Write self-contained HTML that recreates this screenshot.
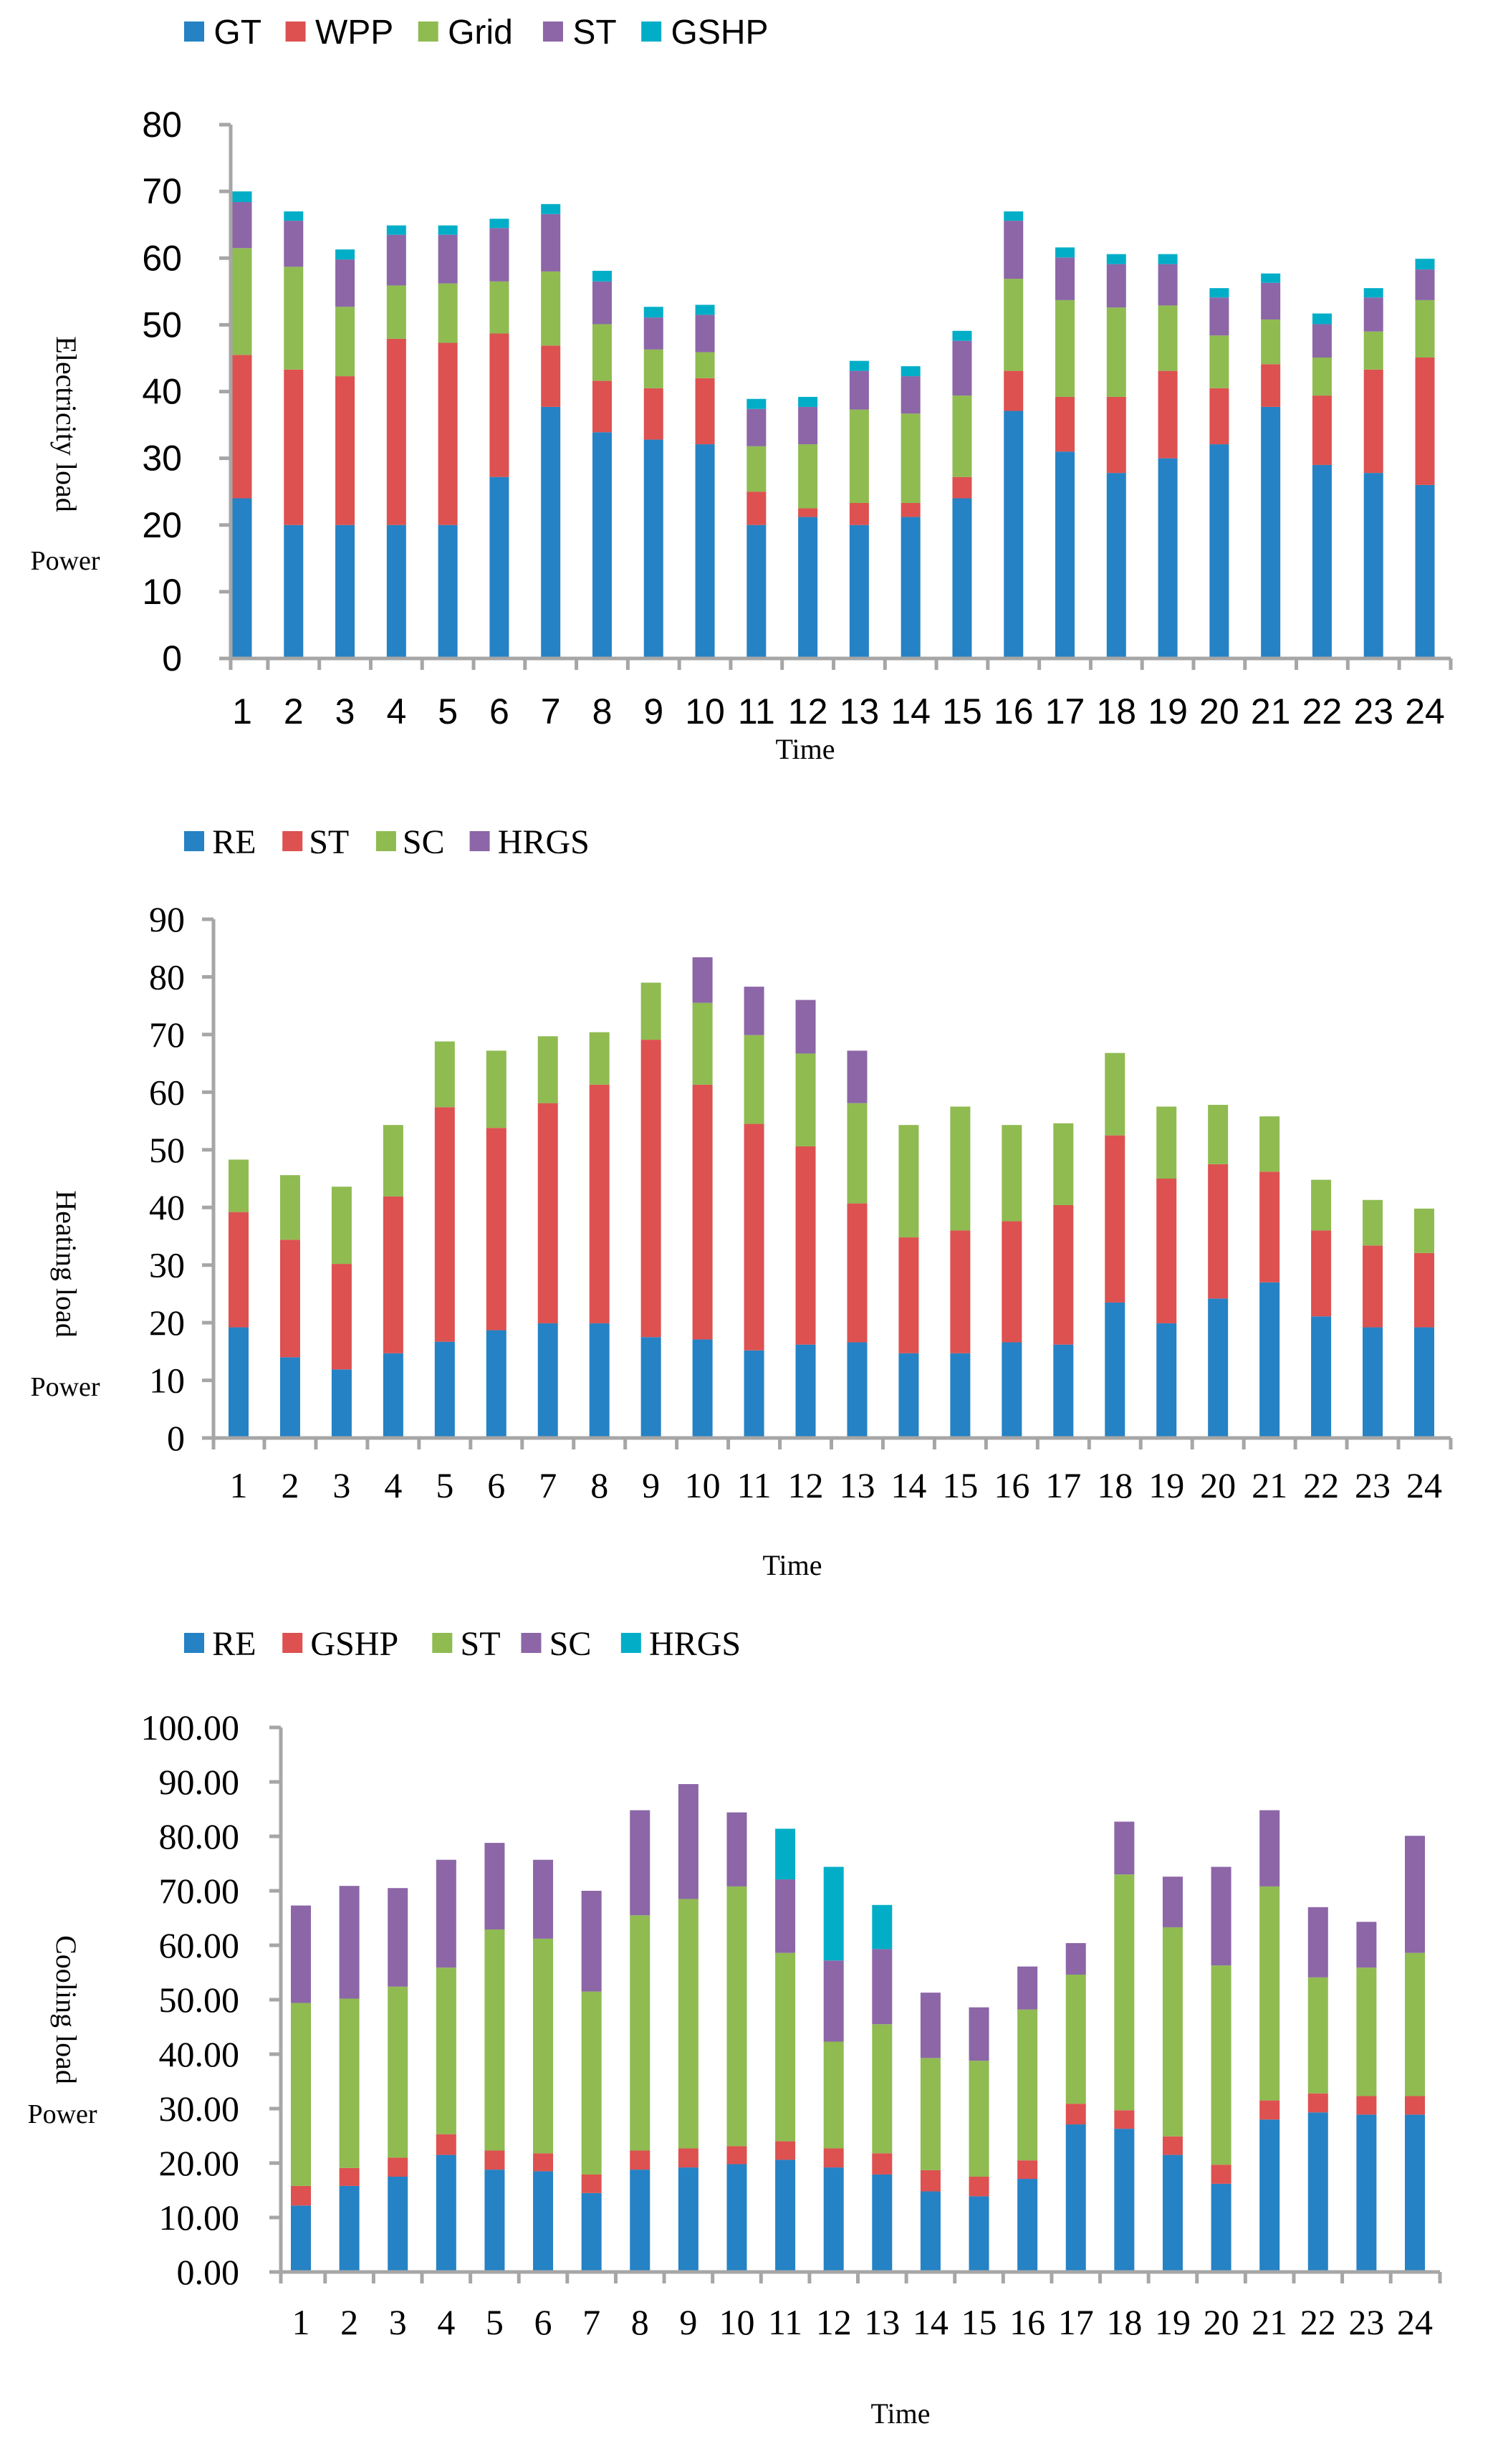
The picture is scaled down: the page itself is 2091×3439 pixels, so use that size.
<!DOCTYPE html>
<html><head><meta charset="utf-8">
<style>
html,body{margin:0;padding:0;background:#fff;}
svg{display:block;}
</style></head>
<body>
<svg id="root" width="2091" height="3439" viewBox="0 0 2091 3439" xmlns="http://www.w3.org/2000/svg"></svg>
<script>
// ---------- data ----------
const hours = ['1','2','3','4','5','6','7','8','9','10','11','12','13','14','15','16','17','18','19','20','21','22','23','24'];

// Chart 1: Electricity load
const elecSeriesNames = ['GT','WPP','Grid','ST','GSHP'];
const elecGT   = [24,20,20,20,20,27.2,37.7,33.9,32.8,32.1,20,21.2,20,21.2,24,37.1,31,27.8,30,32.1,37.7,29,27.8,26];
const elecWPP  = [21.5,23.3,22.3,27.9,27.3,21.5,9.2,7.7,7.7,9.9,5,1.3,3.3,2.1,3.2,6,8.2,11.4,13.1,8.4,6.4,10.4,15.5,19.1];
const elecGrid = [16,15.4,10.4,8,8.9,7.8,11.1,8.5,5.8,3.9,6.8,9.6,14,13.4,12.2,13.8,14.5,13.4,9.8,7.9,6.7,5.7,5.7,8.6];
const elecST   = [6.9,6.9,7.1,7.6,7.3,8,8.6,6.4,4.8,5.6,5.6,5.6,5.8,5.6,8.2,8.7,6.4,6.5,6.2,5.7,5.5,5,5.1,4.6];
const elecGSHP = [1.6,1.4,1.5,1.4,1.4,1.4,1.5,1.6,1.6,1.5,1.5,1.5,1.5,1.5,1.5,1.4,1.5,1.5,1.5,1.4,1.4,1.6,1.4,1.6];
const elecTicks = ['0','10','20','30','40','50','60','70','80'];

// Chart 2: Heating load
const heatSeriesNames = ['RE','ST','SC','HRGS'];
const heatRE   = [19.2,14,11.9,14.7,16.7,18.7,19.9,19.9,17.5,17.1,15.2,16.2,16.6,14.7,14.7,16.6,16.2,23.5,19.9,24.2,27,21.1,19.2,19.2];
const heatST   = [20,20.4,18.3,27.2,40.7,35.1,38.2,41.4,51.6,44.2,39.3,34.4,24.1,20.1,21.3,21,24.2,29,25.1,23.3,19.2,14.9,14.2,12.9];
const heatSC   = [9.1,11.2,13.4,12.4,11.4,13.4,11.6,9.1,9.9,14.2,15.4,16.1,17.4,19.5,21.5,16.7,14.2,14.3,12.5,10.3,9.6,8.8,7.9,7.7];
const heatHRGS = [0,0,0,0,0,0,0,0,0,7.9,8.4,9.3,9.1,0,0,0,0,0,0,0,0,0,0,0];
const heatTicks = ['0','10','20','30','40','50','60','70','80','90'];

// Chart 3: Cooling load
const coolSeriesNames = ['RE','GSHP','ST','SC','HRGS'];
const coolRE   = [12.2,15.8,17.5,21.5,18.8,18.5,14.5,18.8,19.2,19.8,20.6,19.2,17.9,14.8,13.9,17.1,27.1,26.3,21.5,16.2,28,29.3,28.9,28.9];
const coolGSHP = [3.6,3.3,3.5,3.8,3.5,3.3,3.4,3.5,3.5,3.3,3.4,3.5,3.9,3.9,3.6,3.4,3.8,3.4,3.4,3.5,3.5,3.5,3.4,3.4];
const coolST   = [33.6,31.1,31.4,30.6,40.6,39.4,33.6,43.2,45.8,47.7,34.6,19.6,23.7,20.6,21.3,27.7,23.7,43.3,38.4,36.6,39.3,21.3,23.6,26.3];
const coolSC   = [17.9,20.7,18.1,19.8,15.9,14.5,18.5,19.3,21.1,13.6,13.5,14.9,13.8,12,9.8,7.9,5.8,9.7,9.3,18.1,14,12.9,8.4,21.5];
const coolHRGS = [0,0,0,0,0,0,0,0,0,0,9.3,17.2,8.1,0,0,0,0,0,0,0,0,0,0,0];
const coolTicks = ['0.00','10.00','20.00','30.00','40.00','50.00','60.00','70.00','80.00','90.00','100.00'];

// ---------- drawing ----------
const NS='http://www.w3.org/2000/svg';
const root=document.getElementById('root');
const C={blue:'#2582c4',red:'#dd5150',green:'#8fbb51',purple:'#8c66a7',cyan:'#02aec7'};
function mk(tag,attrs,parent){const e=document.createElementNS(NS,tag);for(const k in attrs)e.setAttribute(k,attrs[k]);(parent||root).appendChild(e);return e;}
function txt(s,attrs,parent){const e=mk('text',attrs,parent);e.textContent=s;return e;}

function drawChart(cfg){
  const g=mk('g',{});
  
  
  const n=cfg.cats.length;
  const maxV=cfg.maxV;
  const yScale=v=>cfg.y0-(v/maxV)*(cfg.y0-cfg.yTop);
  const step=(cfg.xLast-cfg.xFirst)/(n-1);
  const xScale=i=>cfg.xFirst+i*step;
  cfg.series.forEach((s,k)=>{
    const lg=mk('g',{},g);
    
    
    mk('rect',{x:cfg.legX[k][0],y:cfg.legY-14,width:28,height:28,fill:s.color},lg);
    txt(s.name,{x:cfg.legX[k][1],y:cfg.legY+17,'font-family':cfg.font,'font-size':48,fill:'#000'},lg);
  });
  for(let i=0;i<n;i++){
    let acc=0;
    cfg.series.forEach(s=>{
      const v=s.values[i];
      if(v>0){
        const yT=yScale(acc+v),yB=yScale(acc);
        const r=mk('rect',{x:xScale(i)-cfg.bw/2,y:yT,width:cfg.bw,height:yB-yT,fill:s.color},g);
        
        
      }
      acc+=v;
    });
  }
  const ax=mk('g',{},g);
  
  
  mk('line',{x1:cfg.xAxis,y1:cfg.yTop,x2:cfg.xAxis,y2:cfg.y0,stroke:'#a6a6a6','stroke-width':5},ax);
  mk('line',{x1:cfg.xAxis-16,y1:cfg.y0,x2:cfg.xEnd,y2:cfg.y0,stroke:'#a6a6a6','stroke-width':5},ax);
  cfg.ticks.forEach(lab=>{
    const v=parseFloat(lab);const y=yScale(v);
    mk('line',{x1:cfg.xAxis-16,y1:y,x2:cfg.xAxis,y2:y,stroke:'#a6a6a6','stroke-width':5},ax);
    const t=txt(lab,{x:cfg.tickRight,y:y+17,'text-anchor':'end','font-family':cfg.font,'font-size':cfg.tickFont,fill:'#000'},ax);
    
    
  });
  for(let i=0;i<=n;i++){
    const xx=i===0?cfg.xAxis:(i===n?cfg.xEnd:xScale(i)-step/2);
    mk('line',{x1:xx,y1:cfg.y0,x2:xx,y2:cfg.y0+16,stroke:'#a6a6a6','stroke-width':5},ax);
  }
  cfg.cats.forEach((c,i)=>{
    const t=txt(c,{x:xScale(i),y:cfg.xLabY,'text-anchor':'middle','font-family':cfg.font,'font-size':cfg.tickFont,fill:'#000'},ax);
    
    
  });
  const xt=txt('Time',{x:cfg.timeX,y:cfg.timeY,'text-anchor':'middle','font-family':'Liberation Serif, serif','font-size':40,fill:'#000'},g);
  
  
  const yt=txt(cfg.yTitle,{x:0,y:0,'text-anchor':'middle','font-family':'Liberation Serif, serif','font-size':40,fill:'#000',transform:`translate(${cfg.yTitleX},${cfg.yTitleY}) rotate(90)`},g);
  
  
  const pw=txt('Power',{x:cfg.powX,y:cfg.powY,'text-anchor':'middle','font-family':'Liberation Serif, serif','font-size':38,fill:'#000'},g);
  
  
}

const S=2.178;
drawChart({name:'electricity-chart',cats:hours,maxV:80,y0:919,yTop:174,xFirst:338,xLast:1989,xAxis:322,xEnd:2025,bw:27,
  font:'Liberation Sans, sans-serif',tickFont:50,tickRight:254,xLabY:1010,timeX:1124,timeY:1059,
  yTitle:'Electricity load',yTitleX:79,yTitleY:592,powX:91,powY:795,legY:44,
  legX:[[118*S,137*S],[183*S,202*S],[268*S,287*S],[348*S,367*S],[411*S,430*S]],
  ticks:elecTicks,
  series:[{name:elecSeriesNames[0],values:elecGT,color:C.blue},{name:elecSeriesNames[1],values:elecWPP,color:C.red},{name:elecSeriesNames[2],values:elecGrid,color:C.green},{name:elecSeriesNames[3],values:elecST,color:C.purple},{name:elecSeriesNames[4],values:elecGSHP,color:C.cyan}]});

drawChart({name:'heating-chart',cats:hours,maxV:90,y0:2007,yTop:1283,xFirst:333,xLast:1988,xAxis:298,xEnd:2025,bw:28,
  font:'Liberation Serif, serif',tickFont:50,tickRight:258,xLabY:2090,timeX:1106,timeY:2198,
  yTitle:'Heating load',yTitleX:79,yTitleY:1764,powX:91,powY:1948,legY:1174,
  legX:[[118*S,136*S],[181*S,198*S],[241*S,258*S],[301*S,319*S]],
  ticks:heatTicks,
  series:[{name:heatSeriesNames[0],values:heatRE,color:C.blue},{name:heatSeriesNames[1],values:heatST,color:C.red},{name:heatSeriesNames[2],values:heatSC,color:C.green},{name:heatSeriesNames[3],values:heatHRGS,color:C.purple}]});

drawChart({name:'cooling-chart',cats:hours,maxV:100,y0:3171,yTop:2411,xFirst:420,xLast:1975,xAxis:392,xEnd:2010,bw:28,
  font:'Liberation Serif, serif',tickFont:50,tickRight:334,xLabY:3258,timeX:1257,timeY:3382,
  yTitle:'Cooling load',yTitleX:79,yTitleY:2805,powX:87,powY:2963,legY:2293,
  legX:[[118*S,136*S],[181*S,199*S],[277*S,295*S],[334*S,352*S],[398*S,416*S]],
  ticks:coolTicks,
  series:[{name:coolSeriesNames[0],values:coolRE,color:C.blue},{name:coolSeriesNames[1],values:coolGSHP,color:C.red},{name:coolSeriesNames[2],values:coolST,color:C.green},{name:coolSeriesNames[3],values:coolSC,color:C.purple},{name:coolSeriesNames[4],values:coolHRGS,color:C.cyan}]});
</script>
</body></html>
